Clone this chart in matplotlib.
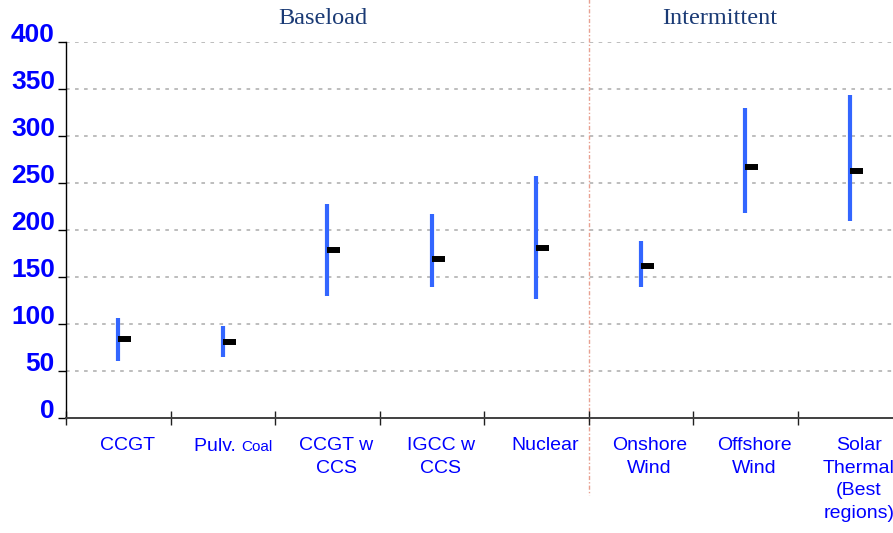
import matplotlib
matplotlib.use("Agg")
import matplotlib.pyplot as plt
from matplotlib.lines import Line2D
import matplotlib.transforms as mtransforms

categories = ["CCGT", "Pulv. Coal", "CCGT w\nCCS", "IGCC w\nCCS", "Nuclear",
              "Onshore\nWind", "Offshore\nWind", "Solar\nThermal\n(Best\nregions)"]
low = [61, 65, 130, 139, 127, 139, 218, 210]
high = [106, 98, 228, 217, 257, 188, 330, 344]
mid = [84, 81, 179, 169, 181, 162, 267, 263]
yticks = [0, 50, 100, 150, 200, 250, 300, 350, 400]
groups = ["Baseload", "Intermittent"]
group_pos = [2.46, 6.26]

W, H = 893, 533
fig = plt.figure(figsize=(W / 100, H / 100), dpi=100)
ax = fig.add_axes([66 / W, (533 - 418) / H, 836 / W, 376 / H])

ax.set_xlim(0, len(categories))
ax.set_ylim(0, 400)

# grid
for v in yticks[1:]:
    ax.axhline(v, color="#b8b8b8", lw=1.3, ls=(0, (2, 3)), zorder=0)

xs = [i + 0.5 for i in range(len(categories))]
ax.vlines(xs, low, high, color="#3366ff", lw=3, zorder=3)
ax.hlines(mid, xs, [x + 0.125 for x in xs], color="black", lw=4.3, zorder=4)

# spines
for s in ["top", "right"]:
    ax.spines[s].set_visible(False)
ax.spines["left"].set_color("black")
ax.spines["left"].set_linewidth(1.0)
ax.spines["bottom"].set_color("#404040")
ax.spines["bottom"].set_linewidth(1.4)

ax.set_yticks(yticks)
ax.set_yticklabels([str(v) for v in yticks], fontfamily="Liberation Sans",
                   fontweight="bold", fontsize=19, color="#0000ff")
for lab in ax.get_yticklabels():
    lab.set_verticalalignment("baseline")
ax.tick_params(axis="y", direction="out", length=6, width=1, pad=2, color="black")

ax.set_xticks(range(len(categories) + 1))
ax.set_xticklabels([])
ax.tick_params(axis="x", direction="inout", length=10, width=1, color="#202020")

trans = mtransforms.blended_transform_factory(ax.transData, ax.transAxes)
for i, lab in enumerate(categories):
    x = xs[i] + 0.085
    if lab == "Pulv. Coal":
        ax.annotate("Pulv. ", xy=(x + 0.09, 0), xycoords=trans, xytext=(0, -23.5),
                    textcoords="offset points", ha="right", va="baseline",
                    fontsize=14, color="#0000ff", fontfamily="Liberation Sans",
                    annotation_clip=False)
        ax.annotate("Coal", xy=(x + 0.09, 0), xycoords=trans, xytext=(0, -23.5),
                    textcoords="offset points", ha="left", va="baseline",
                    fontsize=11, color="#0000ff", fontfamily="Liberation Sans",
                    annotation_clip=False)
    else:
        ax.annotate(lab, xy=(x, 0), xycoords=trans, xytext=(0, -13.5),
                    textcoords="offset points", ha="center", va="top",
                    fontsize=14, color="#0000ff", fontfamily="Liberation Sans",
                    linespacing=1.45, annotation_clip=False)

# group divider
ax.add_line(Line2D([5, 5], [1.115, -0.205], transform=trans, color="#e8a090",
                   lw=1.0, ls=(0, (3, 1.5, 1, 1.5)), clip_on=False, zorder=1))

for g, p in zip(groups, group_pos):
    ax.text(p, 1.0 + 23 / 376, g, transform=trans, ha="center", va="center",
            fontsize=17.5, color="#1a3a75", fontfamily="Liberation Serif")

fig.savefig("out.png", dpi=100)
